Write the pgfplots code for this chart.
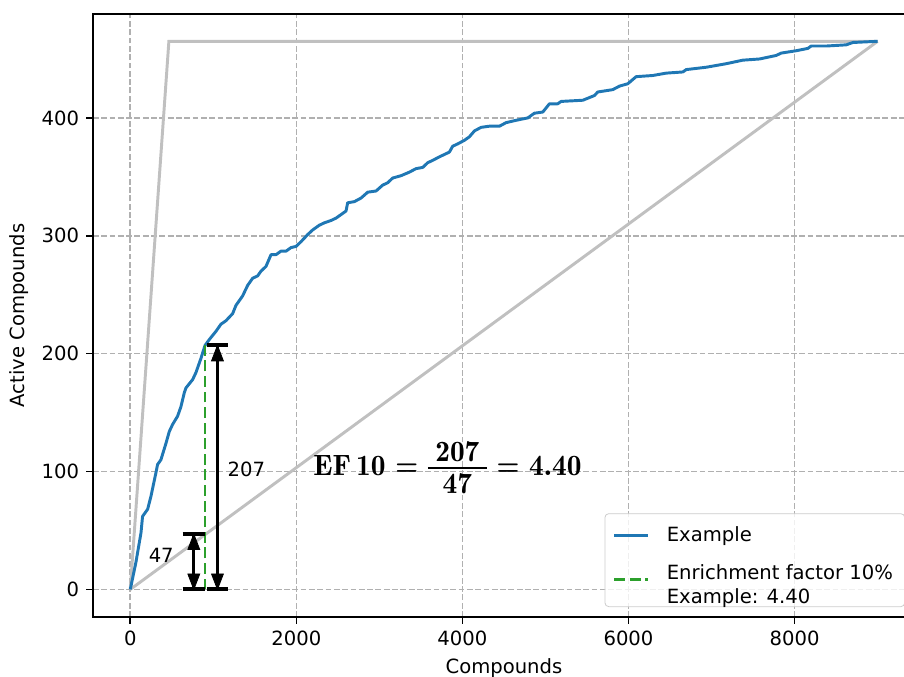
\documentclass[border=0pt]{standalone}
\usepackage[no-math]{fontspec}
\setmainfont{DejaVu Sans}
\usepackage{pgfplots}
\pgfplotsset{compat=1.18}
\definecolor{mplblue}{HTML}{1F77B4}
\definecolor{mplgreen}{HTML}{2CA02C}
\definecolor{refgray}{HTML}{C0C0C0}
\definecolor{gridgray}{HTML}{B0B0B0}
\definecolor{legendedge}{HTML}{CCCCCC}
\newcommand{\efentry}{$\vcenter{\hbox{Enrichment factor 10\%}\hbox{Example: 4.40}}$}
\newcommand{\effrac}{$\vcenter{\hbox to 30pt{\hss 207\hss}\kern2.5pt\hrule height 0.9pt\kern2.5pt\hbox to 30pt{\hss 47\hss}}$}

\begin{document}
\begin{tikzpicture}
  % crop like the reference: right edge and part of the x label fall outside
  \useasboundingbox (-47.4pt,-30.6pt) rectangle (413.8pt,314.7pt);
  \begin{axis}[
      at={(0pt,0pt)}, anchor=south west,
      scale only axis, width=419.4pt, height=307.6pt,
      xmin=-450, xmax=9450, ymin=-23.25, ymax=488.25,
      xtick={0,2000,4000,6000,8000}, ytick={0,100,200,300,400},
      grid=major,
      major grid style={gridgray, line width=0.8pt, dash pattern=on 2.96pt off 1.28pt},
      axis line style={line width=0.8pt},
      tick align=outside, tick pos=left, major tick length=3.5pt,
      tick style={black, line width=0.8pt},
      tick label style={font=\fontsize{10}{12}\selectfont},
      /pgf/number format/assume math mode=true,
      /pgf/number format/1000 sep={},
      scaled ticks=false,
      xlabel={Compounds}, ylabel={Active Compounds},
      label style={font=\fontsize{10}{12}\selectfont},
      legend style={at={(1,0)}, anchor=south east, xshift=-5pt, yshift=5pt,
        draw=legendedge, rounded corners=2pt, fill=white, fill opacity=0.8, text opacity=1,
        font=\fontsize{10}{12}\selectfont, inner xsep=4pt, inner ysep=4.5pt,
        row sep=6.5pt, column sep=7pt},
      legend cell align=left,
    ]
    \addplot[refgray, line width=1.5pt, forget plot] coordinates {(0,0) (9000,465)};
    \addplot[refgray, line width=1.5pt, forget plot] coordinates {(0,0) (465,465) (9000,465)};
    \addplot[mplblue, line width=1.5pt, line join=round] coordinates {
      (0,0)(68,23)(129,48)(148,62)(209,68)(249,79)(309,99)(329,106)(369,110)(430,124)
      (470,134)(510,140)(570,147)(610,155)(651,167)(671,171)(751,178)(791,184)(851,196)
      (900,207)(952,212)(1032,219)(1092,225)(1153,228)(1233,234)(1273,241)(1353,249)
      (1414,258)(1474,264)(1534,266)(1574,270)(1634,274)(1695,284)(1755,284)(1815,287)
      (1876,287)(1936,290)(1996,291)(2056,295)(2136,301)(2197,305)(2277,309)(2337,311)
      (2418,313)(2478,315)(2538,318)(2598,321)(2618,328)(2699,329)(2779,332)(2859,337)
      (2960,338)(3040,343)(3100,345)(3160,349)(3261,351)(3361,354)(3442,357)(3522,358)
      (3582,362)(3642,364)(3723,367)(3783,369)(3843,371)(3883,376)(3944,378)(4024,381)
      (4084,384)(4145,389)(4225,392)(4325,393)(4446,393)(4526,396)(4647,398)(4787,400)
      (4867,404)(4968,405)(5048,412)(5148,412)(5189,414)(5450,415)(5590,419)(5630,422)
      (5811,424)(5892,427)(5992,429)(6092,435)(6293,436)(6454,438)(6655,439)(6695,441)
      (6936,443)(7177,446)(7377,449)(7578,450)(7779,453)(7839,455)(8020,457)(8160,459)
      (8200,461)(8381,461)(8622,462)(8703,464)(9000,465)
    };
    \addlegendentry{Example}
    \addplot[mplgreen, line width=1.5pt, dash pattern=on 5.55pt off 2.4pt] coordinates {(900,0) (900,207)};
    \addlegendentry{\efentry}
    % bars at both ends of the two measures
    \addplot[black, line width=2pt, forget plot] coordinates {(630,0) (900,0)};
    \addplot[black, line width=2pt, forget plot] coordinates {(630,47) (900,47)};
    \addplot[black, line width=2pt, forget plot] coordinates {(925,0) (1175,0)};
    \addplot[black, line width=2pt, forget plot] coordinates {(925,207) (1175,207)};
    % arrow shafts and heads
    \addplot[black, line width=1.5pt, forget plot] coordinates {(765,0) (765,47)};
    \addplot[black, line width=1.5pt, forget plot] coordinates {(1050,0) (1050,207)};
    \addplot[black, only marks, mark=triangle*, mark size=3.5pt, forget plot,
      mark options={yshift=-5.25pt, yscale=1.5}] coordinates {(765,47) (1050,207)};
    \addplot[black, only marks, mark=triangle*, mark size=3.5pt, forget plot,
      mark options={yshift=5.25pt, yscale=-1.5}] coordinates {(765,0) (1050,0)};
    \node[font=\fontsize{10}{12}\selectfont] at (axis cs:373,29) {47};
    \node[font=\fontsize{10}{12}\selectfont] at (axis cs:1398,102) {207};
    \node[font=\fontfamily{lmr}\fontsize{15}{18}\selectfont\bfseries] at (axis cs:3820,103) {EF\,10 = \effrac{} = 4.40};
  \end{axis}
\end{tikzpicture}
\end{document}
